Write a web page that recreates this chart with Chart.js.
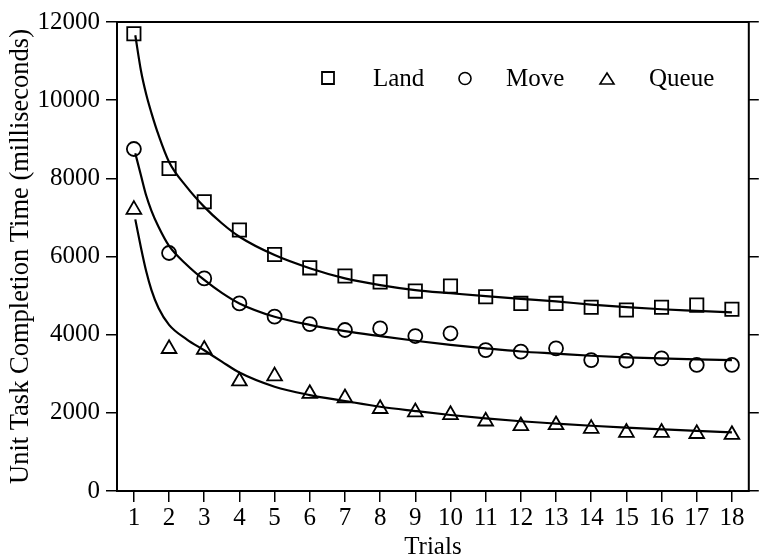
<!DOCTYPE html>
<html>
<head>
<meta charset="utf-8">
<script src="https://cdn.jsdelivr.net/npm/chart.js@4/dist/chart.umd.min.js"></script>
<style>
html,body{margin:0;padding:0;background:#fff;}
#c{display:block;}
</style>
</head>
<body>
<canvas id="c" width="760" height="557"></canvas>
<script>
// ---- data ----
const trials = [1,2,3,4,5,6,7,8,9,10,11,12,13,14,15,16,17,18];
const yTickValues = [0,2000,4000,6000,8000,10000,12000];
const seriesNames = ["Land","Move","Queue"];

const landObs  = [11700,8250,7400,6680,6050,5710,5500,5350,5115,5245,4970,4800,4800,4700,4630,4700,4757,4650];
const moveObs  = [8750,6090,5440,4800,4460,4270,4120,4160,3965,4035,3605,3565,3650,3350,3335,3395,3225,3225];
const queueObs = [7200,3640,3620,2810,2940,2490,2380,2105,2020,1950,1785,1665,1690,1595,1495,1495,1465,1440];

// fitted curves at these trial positions
const fitX     = [1.04,1.2,1.35,1.5,1.7,2,2.5,3,3.5,4,5,6,7,8,9,10,11,12,13,14,15,16,17,18];
const landFit  = [11660,10760,10150,9670,9110,8420,7780,7270,6850,6505,6036,5700,5440,5268,5140,5060,4985,4915,4850,4770,4705,4650,4610,4570];
const moveFit  = [8640,8080,7560,7170,6760,6270,5790,5400,5070,4800,4458,4250,4092,3964,3844,3740,3650,3570,3515,3460,3420,3393,3368,3350];
const queueFit = [6950,6230,5620,5140,4680,4250,3880,3600,3310,3030,2668,2455,2302,2156,2046,1944,1859,1785,1725,1670,1620,1578,1537,1500];

const FONT = "'Liberation Serif','Times New Roman',serif";
const pts = (xs, ys) => xs.map((x, i) => ({x: x, y: ys[i]}));

function markerSet(label, ys, style, r) {
  return {
    label: label, data: pts(trials, ys), showLine: false,
    pointStyle: style, pointRadius: r, pointHoverRadius: r,
    pointBorderColor: '#000', pointBackgroundColor: 'rgba(0,0,0,0)',
    pointBorderWidth: 1.8, borderColor: '#000', isMarker: true
  };
}
function fitSet(ys) {
  return {
    label: '', data: pts(fitX, ys), showLine: true, pointRadius: 0,
    borderColor: '#000', borderWidth: 2.2, cubicInterpolationMode: 'monotone',
    fill: false
  };
}

const framePlugin = {
  id: 'frame',
  afterDraw(chart) {
    const a = chart.chartArea, ctx = chart.ctx;
    ctx.save();
    ctx.strokeStyle = '#000';
    ctx.lineWidth = 2;
    ctx.strokeRect(a.left, a.top, a.right - a.left, a.bottom - a.top);
    ctx.restore();
  }
};

const legendPlugin = {
  id: 'insideLegend',
  afterDraw(chart) {
    const a = chart.chartArea, ctx = chart.ctx;
    const markerX = [211, 348, 490];
    const textX = [256, 389, 532];
    const cy = a.top + 56;
    const sets = chart.data.datasets.filter(d => d.isMarker);
    ctx.save();
    ctx.strokeStyle = '#000';
    ctx.fillStyle = '#000';
    ctx.font = '25px ' + FONT;
    ctx.textBaseline = 'alphabetic';
    sets.forEach((d, i) => {
      const mx = a.left + markerX[i];
      ctx.beginPath();
      if (d.pointStyle === 'rect') {
        ctx.lineWidth = 1.8;
        ctx.rect(mx - 6, cy - 6, 12, 12);
      } else if (d.pointStyle === 'circle') {
        ctx.lineWidth = 1.6;
        ctx.arc(mx, cy + 0.5, 6, 0, Math.PI * 2);
      } else {
        ctx.lineWidth = 1.6;
        ctx.moveTo(mx, cy - 5);
        ctx.lineTo(mx + 7, cy + 6);
        ctx.lineTo(mx - 7, cy + 6);
        ctx.closePath();
      }
      ctx.stroke();
      ctx.fillText(d.label, a.left + textX[i], cy + 7.5);
    });
    ctx.restore();
  }
};

new Chart(document.getElementById('c'), {
  type: 'scatter',
  data: {
    datasets: [
      markerSet(seriesNames[0], landObs, 'rect', 9.4),
      markerSet(seriesNames[1], moveObs, 'circle', 7),
      markerSet(seriesNames[2], queueObs, 'triangle', 8.5),
      fitSet(landFit),
      fitSet(moveFit),
      fitSet(queueFit)
    ]
  },
  options: {
    responsive: false,
    animation: false,
    devicePixelRatio: 1,
    layout: { padding: { top: 22, left: 0, right: 0, bottom: 0 } },
    plugins: { legend: { display: false }, tooltip: { enabled: false } },
    scales: {
      x: {
        type: 'linear', position: 'bottom', min: 0.52, max: 18.48,
        afterBuildTicks: s => { s.ticks = trials.map(v => ({value: v})); },
        afterFit: s => { s.height = 66; },
        border: { display: false },
        grid: { drawOnChartArea: false, drawTicks: true, tickLength: 11, tickColor: '#000', lineWidth: 1.5 },
        ticks: { color: '#000', padding: 1, maxRotation: 0, autoSkip: false,
                 font: { family: FONT, size: 25 }, callback: v => String(v) },
        title: { display: true, text: 'Trials', color: '#000', padding: { top: 0, bottom: 0 },
                 font: { family: FONT, size: 25, lineHeight: 0.75 } }
      },
      y: {
        type: 'linear', position: 'left', min: 0, max: 12000,
        afterBuildTicks: s => { s.ticks = yTickValues.map(v => ({value: v})); },
        afterFit: s => { s.width = 117; },
        border: { display: false },
        grid: { drawOnChartArea: false, drawTicks: true, tickLength: 11, tickColor: '#000', lineWidth: 1.5 },
        ticks: { color: '#000', padding: 6, font: { family: FONT, size: 25 }, callback: v => String(v) },
        title: { display: true, text: 'Unit Task Completion Time (milliseconds)', color: '#000',
                 padding: { top: 11, bottom: 0 }, font: { family: FONT, size: 26.5, lineHeight: 0.75 } }
      },
      y2: {
        type: 'linear', position: 'right', min: 0, max: 12000,
        afterBuildTicks: s => { s.ticks = yTickValues.map(v => ({value: v})); },
        afterFit: s => { s.width = 10; },
        border: { display: false },
        grid: { drawOnChartArea: false, drawTicks: true, tickLength: 10, tickColor: '#000', lineWidth: 1.5 },
        ticks: { display: false }
      }
    }
  },
  plugins: [framePlugin, legendPlugin]
});
</script>
</body>
</html>
